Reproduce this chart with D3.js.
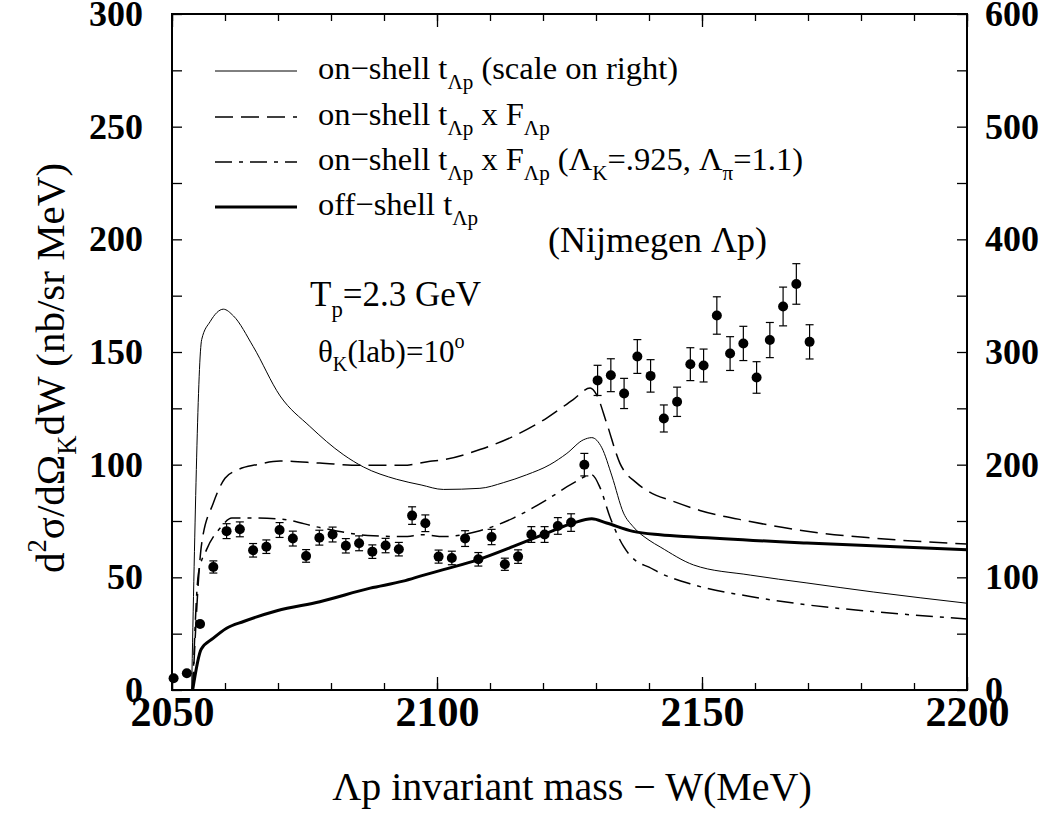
<!DOCTYPE html>
<html>
<head>
<meta charset="utf-8">
<script src="https://cdn.jsdelivr.net/npm/d3@7"></script>
<style>
  body { margin: 0; background: #fff; }
  text { font-family: "Liberation Serif", "Times New Roman", serif; }
</style>
</head>
<body>
<div id="chart"></div>
<script>
// data (left scale unless noted)
const dataW = [2050.3, 2052.8, 2055.3, 2057.8, 2060.3, 2062.8, 2065.3, 2067.8, 2070.3, 2072.8,
  2075.3, 2077.8, 2080.3, 2082.8, 2085.3, 2087.8, 2090.3, 2092.8, 2095.3, 2097.8,
  2100.3, 2102.8, 2105.3, 2107.8, 2110.3, 2112.8, 2115.3, 2117.8, 2120.3, 2122.8,
  2125.3, 2127.8, 2130.3, 2132.8, 2135.3, 2137.8, 2140.3, 2142.8, 2145.3, 2147.8,
  2150.3, 2152.8, 2155.3, 2157.8, 2160.3, 2162.8, 2165.3, 2167.8, 2170.3];
const dataY = [5.2, 7.4, 29.3, 54.6, 70.5, 71.3, 62, 63.6, 71, 67.2,
  59.5, 67.6, 69, 64, 65.1, 61.4, 64.1, 62.5, 77.4, 74,
  59.2, 58.6, 67.2, 58, 67.9, 55.8, 59.2, 69, 69, 72.8,
  74.3, 100, 137.4, 139.7, 131.6, 148, 139.4, 120.5, 127.9, 144.6,
  144, 166.2, 149.3, 153.8, 138.7, 155.3, 170.2, 180.2, 154.5];
const dataErr = [0, 0, 1.5, 2.7, 3.3, 3.3, 3, 3, 3.3, 3.3,
  2.8, 3.3, 3.3, 3.2, 3.3, 3, 3.2, 3, 3.9, 3.7,
  2.9, 3, 3.5, 3, 3.4, 2.7, 3, 3.5, 3.5, 3.7,
  3.9, 5, 6.7, 7.3, 6.7, 7.5, 7.2, 6, 6.5, 7.3,
  7.3, 8.3, 7.5, 7.6, 7, 7.8, 8.6, 9, 7.6];

// on-shell t (right scale)
const onShellW = [2053.7, 2055.6, 2057.2, 2059.7, 2061.6, 2065.3, 2070.4, 2076, 2082.3, 2086.1,
  2092.4, 2097, 2101.2, 2108.1, 2112.5, 2116.9, 2121.3, 2124.5, 2127.6, 2129.2,
  2131.1, 2133, 2135.2, 2137, 2140, 2142.1, 2148.4, 2159.1, 2169.8, 2182.3, 2200];
const onShellR = [0, 311, 327, 338, 332, 305, 261, 234, 209, 198,
  187, 182, 178, 179, 184, 191, 200, 210, 222, 224,
  215, 190, 157, 145, 133, 127, 111, 102, 95, 87, 77];

// on-shell t x F
const formW = [2053.9, 2055.6, 2057.8, 2060, 2062.2, 2066, 2070.4, 2077.9, 2085.5, 2093.6,
  2098.7, 2101.2, 2108.1, 2114.4, 2120.7, 2125.7, 2128.9, 2130.1, 2132, 2134.5,
  2137.7, 2140, 2144.6, 2149.6, 2159.1, 2169.8, 2182.3, 2200];
const formY = [0, 65, 83, 94, 97.5, 100, 101.6, 100.7, 99.7, 99.7,
  101.5, 102.2, 106.7, 112.6, 120.7, 128.9, 134, 131.1, 118.5, 100.7,
  91.8, 88, 83.7, 79.7, 74.8, 70.4, 67.4, 64.8];

// on-shell t x F (cutoffs)
const cutW = [2053.9, 2055, 2056.5, 2059.1, 2061.3, 2065.3, 2070.4, 2077.9, 2088, 2093.6,
  2097.5, 2101.2, 2108.1, 2114.4, 2120.7, 2125.7, 2129.2, 2130.8, 2132.6, 2135.2,
  2137.7, 2140, 2142.1, 2148.4, 2159.1, 2169.8, 2182.3, 2200];
const cutY = [0, 51.9, 62.2, 71.9, 76.3, 76.3, 75.9, 72.1, 68.4, 68.1,
  68.9, 68.1, 70.7, 76.3, 84.4, 91.8, 95.5, 89.6, 77, 63.7,
  57, 54.5, 51.9, 46.7, 41.5, 37.8, 34.8, 31.5];

// off-shell t
const offW = [2053.9, 2055.5, 2057.8, 2060.3, 2063.5, 2069.8, 2077.9, 2087.4, 2093.6, 2097.5,
  2101.2, 2108.1, 2114.4, 2120.7, 2125.7, 2129.2, 2132, 2137, 2142.1, 2148.4, 2169.8, 2200];
const offY = [0, 18.1, 23, 27.4, 30.4, 35.2, 39.2, 45.2, 48.3, 51,
  53.4, 58.1, 63.7, 69.6, 74.1, 76, 74.1, 70.4, 68.9, 67.9, 65.2, 62.2];

const xTicks = [2050, 2100, 2150, 2200];
const yTicks = [0, 50, 100, 150, 200, 250, 300];
const yRightTicks = [0, 100, 200, 300, 400, 500, 600];

const width = 1060, height = 815;
const plot = {left: 172, right: 967, top: 14, bottom: 690};

const svg = d3.select("#chart").append("svg")
  .attr("width", width)
  .attr("height", height);

const x = d3.scaleLinear().domain([2050, 2200]).range([plot.left, plot.right]);
const y = d3.scaleLinear().domain([0, 300]).range([plot.bottom, plot.top]);
const yR = d3.scaleLinear().domain([0, 600]).range([plot.bottom, plot.top]);

// ticks (all pointing inward)
const tickStyle = g => {
  g.select(".domain").remove();
  g.selectAll("line").attr("stroke", "#000").attr("stroke-width", 1.3);
  g.selectAll("text").attr("fill", "#000").style("font-weight", "bold");
};

svg.append("g").attr("transform", `translate(0,${plot.bottom})`)
  .call(d3.axisBottom(x).tickValues(d3.range(2050, 2201, 10)).tickSize(-7).tickFormat(""))
  .call(tickStyle);
svg.append("g").attr("transform", `translate(0,${plot.bottom})`)
  .call(d3.axisBottom(x).tickValues(xTicks).tickSize(-13).tickPadding(7).tickFormat(d3.format("d")))
  .call(tickStyle)
  .selectAll("text").style("font-size", "42px").attr("dy", "0.7em");
svg.append("g").attr("transform", `translate(0,${plot.top})`)
  .call(d3.axisTop(x).tickValues(d3.range(2050, 2201, 10)).tickSize(-7).tickFormat(""))
  .call(tickStyle);
svg.append("g").attr("transform", `translate(0,${plot.top})`)
  .call(d3.axisTop(x).tickValues(xTicks).tickSize(-13).tickFormat(""))
  .call(tickStyle);

svg.append("g").attr("transform", `translate(${plot.left},0)`)
  .call(d3.axisLeft(y).tickValues(d3.range(0, 301, 25)).tickSize(-10).tickFormat(""))
  .call(tickStyle);
svg.append("g").attr("transform", `translate(${plot.left},0)`)
  .call(d3.axisLeft(y).tickValues(yTicks).tickSize(0).tickPadding(29).tickFormat(d3.format("d")))
  .call(tickStyle)
  .selectAll("text").style("font-size", "36px");

svg.append("g").attr("transform", `translate(${plot.right},0)`)
  .call(d3.axisRight(yR).tickValues(d3.range(0, 601, 50)).tickSize(-10).tickFormat(""))
  .call(tickStyle);
svg.append("g").attr("transform", `translate(${plot.right},0)`)
  .call(d3.axisRight(yR).tickValues(yRightTicks).tickSize(0).tickPadding(18).tickFormat(d3.format("d")))
  .call(tickStyle)
  .selectAll("text").style("font-size", "36px");

svg.append("rect")
  .attr("x", plot.left).attr("y", plot.top)
  .attr("width", plot.right - plot.left).attr("height", plot.bottom - plot.top)
  .attr("fill", "none").attr("stroke", "#000").attr("stroke-width", 2);

// curves
svg.append("clipPath").attr("id", "clip").append("rect")
  .attr("x", plot.left).attr("y", plot.top)
  .attr("width", plot.right - plot.left).attr("height", plot.bottom - plot.top);

const curves = [
  {w: onShellW, v: onShellR, scale: yR, width: 1, dash: null},
  {w: formW, v: formY, scale: y, width: 1.5, dash: "18,8"},
  {w: cutW, v: cutY, scale: y, width: 1.5, dash: "17,7,4,7"},
  {w: offW, v: offY, scale: y, width: 3, dash: null}
];
const lineGroup = svg.append("g").attr("clip-path", "url(#clip)");
curves.forEach(c => {
  const line = d3.line()
    .x((d, i) => x(c.w[i]))
    .y(d => c.scale(d))
    .curve(d3.curveMonotoneX);
  lineGroup.append("path")
    .attr("d", line(c.v))
    .attr("fill", "none")
    .attr("stroke", "#000")
    .attr("stroke-width", c.width)
    .attr("stroke-dasharray", c.dash);
});

// data points with error bars
const pts = svg.append("g");
dataW.forEach((w, i) => {
  const cx = x(w), cy = y(dataY[i]);
  if (dataErr[i] > 2) {
    const t = y(dataY[i] + dataErr[i]), b = y(dataY[i] - dataErr[i]);
    pts.append("line").attr("x1", cx).attr("x2", cx).attr("y1", t).attr("y2", b)
      .attr("stroke", "#000").attr("stroke-width", 1.2);
    [t, b].forEach(yy => pts.append("line")
      .attr("x1", cx - 4).attr("x2", cx + 4).attr("y1", yy).attr("y2", yy)
      .attr("stroke", "#000").attr("stroke-width", 1.2));
  }
  pts.append("circle").attr("cx", cx).attr("cy", cy).attr("r", 5).attr("fill", "#000");
});

// legend
const legendRows = [
  {y: 71, width: 1, dash: null, parts: [["on\u2212shell t"], ["\u039Bp", "sub"], [" (scale on right)"]]},
  {y: 117, width: 1.5, dash: "18,8", parts: [["on\u2212shell t"], ["\u039Bp", "sub"], [" x F"], ["\u039Bp", "sub"]]},
  {y: 162, width: 1.5, dash: "17,7,4,7", parts: [["on\u2212shell t"], ["\u039Bp", "sub"], [" x F"], ["\u039Bp", "sub"],
    [" (\u039B"], ["K", "sub"], ["=.925, \u039B"], ["\u03C0", "sub"], ["=1.1)"]]},
  {y: 207, width: 3, dash: null, parts: [["off\u2212shell t"], ["\u039Bp", "sub"]]}
];

const richText = (sel, parts, size) => {
  parts.forEach(p => {
    const kind = p[1];
    const ts = sel.append("tspan").text(p[0]);
    if (kind === "sub") ts.attr("dy", size * 0.3).style("font-size", (size * 0.65) + "px");
    else if (kind === "sup") ts.attr("dy", -size * 0.45).style("font-size", (size * 0.65) + "px");
    else ts.style("font-size", size + "px");
    ts.attr("data-kind", kind || "n");
  });
  // reset baseline after sub/sup
  let shift = 0;
  sel.selectAll("tspan").each(function() {
    const k = this.getAttribute("data-kind");
    const d = +(this.getAttribute("dy") || 0);
    if (k === "n" && shift !== 0) { d3.select(this).attr("dy", -shift); shift = 0; }
    else shift += d;
  });
};

legendRows.forEach(r => {
  svg.append("line").attr("x1", 215).attr("x2", 297).attr("y1", r.y).attr("y2", r.y)
    .attr("stroke", "#000").attr("stroke-width", r.width).attr("stroke-dasharray", r.dash);
  const t = svg.append("text").attr("x", 318).attr("y", r.y + 8);
  richText(t, r.parts, 32.5);
});

// annotations
richText(svg.append("text").attr("x", 548).attr("y", 252), [["(Nijmegen \u039Bp)"]], 36);
richText(svg.append("text").attr("x", 310).attr("y", 306), [["T"], ["p", "sub"], ["=2.3 GeV"]], 35);
richText(svg.append("text").attr("x", 318).attr("y", 362), [["\u03B8"], ["K", "sub"], ["(lab)=10"], ["o", "sup"]], 31);

// axis titles
svg.append("text")
  .attr("x", 572).attr("y", 800)
  .attr("text-anchor", "middle")
  .style("font-size", "40px")
  .text("\u039Bp invariant mass \u2212 W(MeV)");

const yTitle = svg.append("text")
  .attr("transform", "translate(64,368) rotate(-90)")
  .attr("text-anchor", "middle");
richText(yTitle, [["d"], ["2", "sup"], ["\u03C3/d\u03A9"], ["K", "sub"], ["dW (nb/sr MeV)"]], 41);
</script>
</body>
</html>
